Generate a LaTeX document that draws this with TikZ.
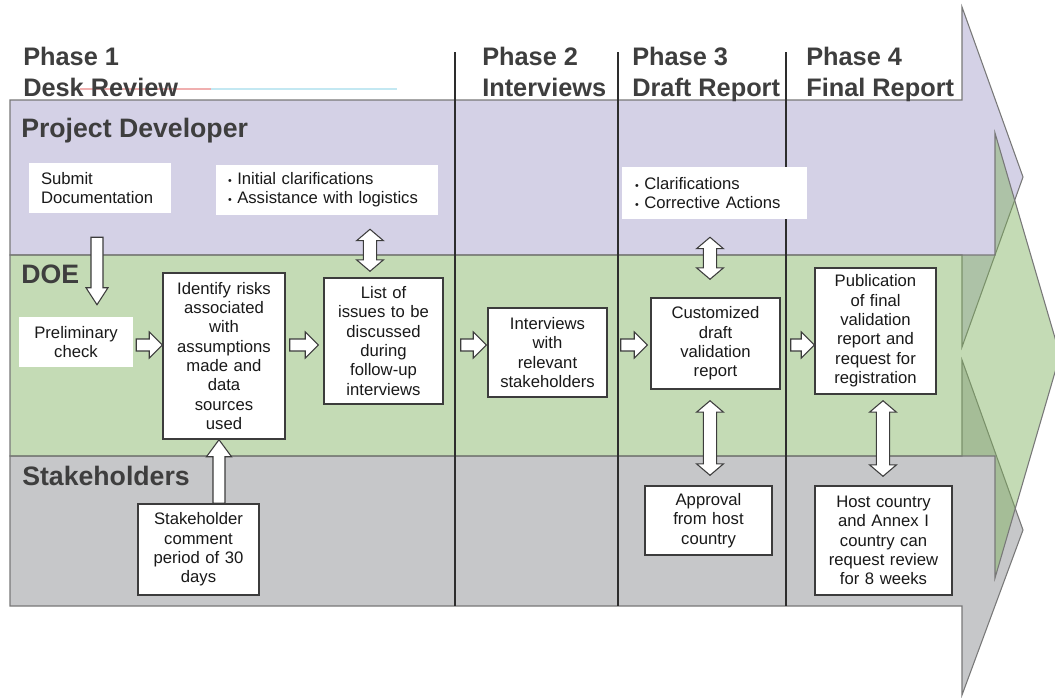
\documentclass[tikz,border=0pt]{standalone}
\usepackage{fontspec}
\setmainfont{Liberation Sans}
\usetikzlibrary{calc}

\definecolor{lanepurple}{RGB}{212,209,230}
\definecolor{lanegreen}{RGB}{126,177,91}
\definecolor{lanegray}{RGB}{198,199,201}
\definecolor{laneedge}{RGB}{120,120,120}
\definecolor{titlegray}{RGB}{62,62,62}
\definecolor{boxedge}{RGB}{60,60,60}
\definecolor{boxtext}{RGB}{25,25,25}
\definecolor{divider}{RGB}{45,45,45}
\definecolor{markpink}{RGB}{240,175,175}
\definecolor{markcyan}{RGB}{195,232,242}

\newcommand{\boxfont}{\fontsize{12.5}{14.5}\selectfont}
\newcommand{\bul}{{\footnotesize\textbullet}\ }

\tikzset{
  fatshaft/.store in=\fatshaft, fathead/.store in=\fathead, fatlen/.store in=\fatlen,
  fatshaft=4.5pt, fathead=9.75pt, fatlen=9.75pt,
  onarrow/.style={shift={(\tikztostart)}, rotate=\n2},
  fatarrow/.style={draw=boxedge, fill=white, line width=0.8pt, line join=miter,
    to path={let \p1=($(\tikztotarget)-(\tikztostart)$), \n1={veclen(\x1,\y1)}, \n2={atan2(\y1,\x1)} in
      ([onarrow]0pt,\fatshaft) -- ([onarrow]{\n1-\fatlen},\fatshaft) -- ([onarrow]{\n1-\fatlen},\fathead)
      -- ([onarrow]\n1,0pt) -- ([onarrow]{\n1-\fatlen},-\fathead) -- ([onarrow]{\n1-\fatlen},-\fatshaft)
      -- ([onarrow]0pt,-\fatshaft) -- cycle}},
  dblarrow/.style={draw=boxedge, fill=white, line width=0.8pt, line join=miter,
    fatshaft=5pt, fathead=10pt, fatlen=8.5pt,
    to path={let \p1=($(\tikztotarget)-(\tikztostart)$), \n1={veclen(\x1,\y1)}, \n2={atan2(\y1,\x1)} in
      ([onarrow]0pt,0pt) -- ([onarrow]\fatlen,\fathead) -- ([onarrow]\fatlen,\fatshaft)
      -- ([onarrow]{\n1-\fatlen},\fatshaft) -- ([onarrow]{\n1-\fatlen},\fathead) -- ([onarrow]\n1,0pt)
      -- ([onarrow]{\n1-\fatlen},-\fathead) -- ([onarrow]{\n1-\fatlen},-\fatshaft)
      -- ([onarrow]\fatlen,-\fatshaft) -- ([onarrow]\fatlen,-\fathead) -- cycle}},
  lane/.style={draw=laneedge, line width=0.8pt, line join=miter},
  divline/.style={draw=divider, line width=1.6pt},
  phase/.style={font=\fontsize{19}{23.25}\selectfont\bfseries, text=titlegray, align=left, anchor=north west, inner sep=0pt},
  lanetitle/.style={font=\fontsize{20}{24}\selectfont\bfseries, text=titlegray, anchor=base west, inner sep=0pt},
  plainbox/.style={fill=white, font=\boxfont, text=boxtext, align=center, inner sep=0pt},
  note/.style={plainbox, align=left, inner xsep=9pt},
  stepbox/.style={plainbox, draw=boxedge, line width=1.1pt},
}

\begin{document}
\begin{tikzpicture}[x=0.75pt,y=-0.75pt]
  \useasboundingbox (0,0) rectangle (1055,697);
  \clip (0,0) rectangle (1055,697);
  \fill[white] (0,0) rectangle (1055,697);

  % swim lanes
  \draw[lane, fill=lanegray] (10,456) -- (962,456) -- (962,360) -- (1023,530) -- (962,695) -- (962,606) -- (10,606) -- cycle;
  \draw[lane, fill=lanepurple] (10,100) -- (962,100) -- (962,7) -- (1023,177) -- (962,347) -- (962,255) -- (10,255) -- cycle;
  \draw[lane, fill=lanegreen, fill opacity=0.45] (10,255) -- (995,255) -- (995,133) -- (1060,355) -- (995,578) -- (995,456) -- (10,456) -- cycle;

  \draw[markpink, line width=0.8pt] (80,89) -- (211,89);
  \draw[markcyan, line width=0.8pt] (211,89) -- (397,89);

  \foreach \xd in {455,618,786}
    \draw[divline] (\xd,52) -- (\xd,606);

  % headings
  \node[phase] (ph1) at (23,47) {Phase 1\\Desk Review};
  \node[phase] (ph2) at (482,47) {Phase 2\\Interviews};
  \node[phase] (ph3) at (632,47) {Phase 3\\Draft Report};
  \node[phase] (ph4) at (806,47) {Phase 4\\Final Report};
  \node[lanetitle] (pdv) at (21,137) {Project Developer};
  \node[lanetitle] (doe) at (21,283) {DOE};
  \node[lanetitle] (stk) at (22,485) {Stakeholders};

  % boxes
  \node[note, text width=88.5pt, minimum height=37.5pt] (sub) at (100,188) {Submit\\Documentation};
  \node[note, text width=148.5pt, minimum height=37.5pt] (ini) at (327,190) {\bul Initial clarifications\\\bul Assistance with logistics};
  \node[note, inner xsep=9.75pt, text width=119.25pt, minimum height=39pt] (cla) at (714.5,193) {\bul Clarifications\\\bul Corrective Actions};
  \node[plainbox, text width=85.5pt, minimum height=37.5pt] (pre) at (76,342) {Preliminary\\check};
  \node[stepbox, text width=91.5pt, minimum height=124.5pt] (idr) at (224,356) {Identify risks\\associated\\with\\assumptions\\made and\\data\\sources\\used};
  \node[stepbox, text width=89.25pt, minimum height=94.5pt] (lst) at (383.5,341) {List of\\issues to be\\discussed\\during\\follow-up\\interviews};
  \node[stepbox, text width=89.25pt, minimum height=66.75pt] (itv) at (547.5,352.5) {Interviews\\with\\relevant\\stakeholders};
  \node[stepbox, text width=96.75pt, minimum height=68.25pt] (cus) at (715.5,343.5) {Customized\\draft\\validation\\report};
  \node[stepbox, text width=90.75pt, minimum height=94.5pt] (pub) at (875.5,331) {Publication\\of final\\validation\\report and\\request for\\registration};
  \node[stepbox, text width=90.75pt, minimum height=68.25pt] (stc) at (198.5,549.5) {Stakeholder\\comment\\period of 30\\days};
  \node[stepbox, text width=95.25pt, minimum height=51.75pt] (apr) at (708.5,520.5) {Approval\\from host\\country};
  \node[stepbox, text width=102.75pt, minimum height=81.75pt] (hst) at (883.5,540.5) {Host country\\and Annex I\\country can\\request review\\for 8 weeks};

  % block arrows
  \coordinate (row) at (0,345);
  \draw[fatarrow, fatlen=12.75pt, fathead=8.25pt] ($(sub.south)+(-3,24)$) to ($(sub.south |- pre.north)+(-3,-12)$);
  \draw[fatarrow] ($(pre.east |- row)+(3,0)$) to (idr.west |- row);
  \draw[fatarrow] ($(idr.east |- row)+(4,0)$) to ($(lst.west |- row)+(-5,0)$);
  \draw[fatarrow] ($(lst.east |- row)+(17,0)$) to ($(itv.west |- row)+(-1,0)$);
  \draw[fatarrow] ($(itv.east |- row)+(13,0)$) to ($(cus.west |- row)+(-3,0)$);
  \draw[fatarrow] ($(cus.east |- row)+(10,0)$) to (pub.west |- row);
  \draw[fatarrow, fatlen=12.75pt, fathead=9.4pt] ($(stc.north)+(20.5,0)$) to ($(idr.south)+(-5,0)$);
  \draw[dblarrow] ($(ini.south)+(43,14)$) to ($(lst.north)+(-13.5,-6)$);
  \draw[dblarrow] ($(cla.south)+(-4.5,18)$) to ($(cus.north)+(-5.5,-18)$);
  \draw[dblarrow] ($(cus.south)+(-5.5,11)$) to ($(apr.north)+(1.5,-10)$);
  \draw[dblarrow] ($(pub.south)+(7.5,6)$) to ($(hst.north)+(-0.5,-9)$);
\end{tikzpicture}
\end{document}
